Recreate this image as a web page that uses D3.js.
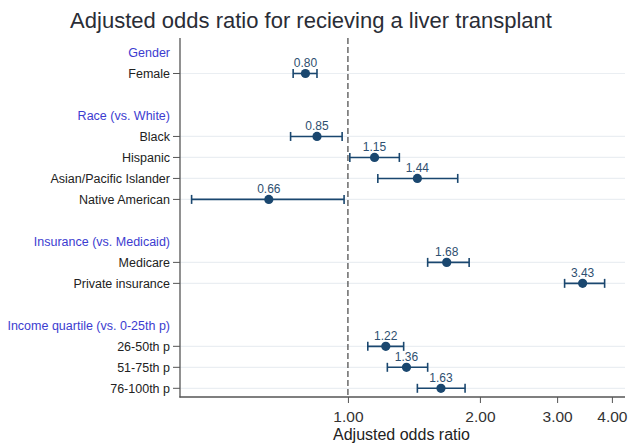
<!DOCTYPE html>
<html>
<head>
<meta charset="utf-8">
<script src="https://cdn.jsdelivr.net/npm/d3@7"></script>
<style>
  html, body { margin: 0; padding: 0; background: #fff; }
  svg { display: block; font-family: "Liberation Sans", Arial, Helvetica, sans-serif; }
</style>
</head>
<body>
<svg id="chart" width="630" height="445"></svg>
<script>
// ---- Data ----
const groups = ["Gender", "Race (vs. White)", "Insurance (vs. Medicaid)", "Income quartile (vs. 0-25th p)"];
const categories = ["Female", "Black", "Hispanic", "Asian/Pacific Islander", "Native American",
                    "Medicare", "Private insurance", "26-50th p", "51-75th p", "76-100th p"];
const groupOf = [0, 1, 1, 1, 1, 2, 2, 3, 3, 3];
const oddsRatio = [0.80, 0.85, 1.15, 1.44, 0.66, 1.68, 3.43, 1.22, 1.36, 1.63];
const ciLow  = [0.75, 0.74, 1.01, 1.17, 0.44, 1.52, 3.12, 1.11, 1.23, 1.44];
const ciHigh = [0.85, 0.97, 1.31, 1.78, 0.98, 1.89, 3.85, 1.34, 1.52, 1.85];
const xTicks = [1, 2, 3, 4];
const xDomain = [0.414, 4.24];
const refValue = 1;
const chartTitle = "Adjusted odds ratio for recieving a liver transplant";
const xTitle = "Adjusted odds ratio";

(function () {
// ---- Build row list (headers, items, spacers) ----
const rows = [];
groups.forEach((g, gi) => {
  rows.push({ id: "h" + gi, type: "header", label: g });
  categories.forEach((c, i) => {
    if (groupOf[i] === gi) rows.push({ id: "r" + i, type: "item", label: c, i });
  });
  if (gi < groups.length - 1) rows.push({ id: "s" + gi, type: "spacer" });
});

// ---- Layout ----
const svg = d3.select("#chart");
const pLeft = 180, pRight = 623, pTop = 38, pBottom = 397;
const navy = "#1a476f";

const x = d3.scaleLog().domain(xDomain).range([pLeft, pRight]);
const y = d3.scalePoint().domain(rows.map(r => r.id)).range([52.5, 388.3]);

// Title
svg.append("text")
  .attr("x", 311).attr("y", 28)
  .attr("text-anchor", "middle")
  .attr("font-size", 22)
  .attr("fill", "#2a2d36")
  .text(chartTitle);

// Gridlines for item rows
const items = rows.filter(r => r.type === "item");
svg.append("g").selectAll("line").data(items).join("line")
  .attr("x1", pLeft).attr("x2", 625)
  .attr("y1", d => y(d.id)).attr("y2", d => y(d.id))
  .attr("stroke", "#eaeef2").attr("stroke-width", 1.2);

// Reference dashed line
svg.append("line")
  .attr("x1", x(refValue)).attr("x2", x(refValue))
  .attr("y1", pTop).attr("y2", pBottom)
  .attr("stroke", "#444").attr("stroke-width", 1.2)
  .attr("stroke-dasharray", "6,3");

// Left axis (ticks only on item rows)
svg.append("line")
  .attr("x1", pLeft).attr("x2", pLeft).attr("y1", pTop).attr("y2", pBottom + 0.5)
  .attr("stroke", "#555").attr("stroke-width", 1.3);
svg.append("g").selectAll("line").data(items).join("line")
  .attr("x1", pLeft - 7).attr("x2", pLeft)
  .attr("y1", d => y(d.id)).attr("y2", d => y(d.id))
  .attr("stroke", "#555").attr("stroke-width", 1);

// Row labels
svg.append("g").selectAll("text").data(rows.filter(r => r.type !== "spacer")).join("text")
  .attr("x", 170)
  .attr("y", d => y(d.id))
  .attr("dy", "0.35em")
  .attr("text-anchor", "end")
  .attr("font-size", 12.5)
  .attr("fill", d => d.type === "header" ? "#3c3cd0" : "#222")
  .text(d => d.label);

// Bottom axis
const xAxis = svg.append("g").attr("transform", `translate(0,${pBottom})`)
  .call(d3.axisBottom(x).tickValues(xTicks).tickFormat(d3.format(".2f")).tickSize(6).tickSizeOuter(0));
xAxis.select(".domain").attr("stroke", "#555").attr("stroke-width", 1.3)
  .attr("d", `M${pLeft - 0.6},0H${625}`);
xAxis.selectAll(".tick line").attr("stroke", "#555").attr("stroke-width", 1);
xAxis.selectAll(".tick text")
  .attr("font-size", 15.5).attr("fill", "#333")
  .attr("font-family", "\"Liberation Sans\", Arial, sans-serif")
  .attr("dy", "1.0em");

svg.append("text")
  .attr("x", (pLeft + pRight) / 2).attr("y", 440)
  .attr("text-anchor", "middle")
  .attr("font-size", 16).attr("fill", "#222")
  .text(xTitle);

// CI bars
const data = items.map(r => ({ id: r.id, or: oddsRatio[r.i], lo: ciLow[r.i], hi: ciHigh[r.i] }));
const g = svg.append("g");
g.selectAll("line.ci").data(data).join("line").attr("class", "ci")
  .attr("x1", d => x(d.lo)).attr("x2", d => x(d.hi))
  .attr("y1", d => y(d.id)).attr("y2", d => y(d.id))
  .attr("stroke", navy).attr("stroke-width", 1.6);
["lo", "hi"].forEach(k => {
  g.selectAll("line.cap-" + k).data(data).join("line").attr("class", "cap-" + k)
    .attr("x1", d => x(d[k])).attr("x2", d => x(d[k]))
    .attr("y1", d => y(d.id) - 4.5).attr("y2", d => y(d.id) + 4.5)
    .attr("stroke", navy).attr("stroke-width", 1.6);
});
g.selectAll("circle").data(data).join("circle")
  .attr("cx", d => x(d.or)).attr("cy", d => y(d.id)).attr("r", 4.6)
  .attr("fill", navy);
g.selectAll("text").data(data).join("text")
  .attr("x", d => x(d.or)).attr("y", d => y(d.id) - 6.5)
  .attr("text-anchor", "middle")
  .attr("font-size", 12).attr("fill", "#2e4f70")
  .text(d => d3.format(".2f")(d.or));
})();
</script>
</body>
</html>
